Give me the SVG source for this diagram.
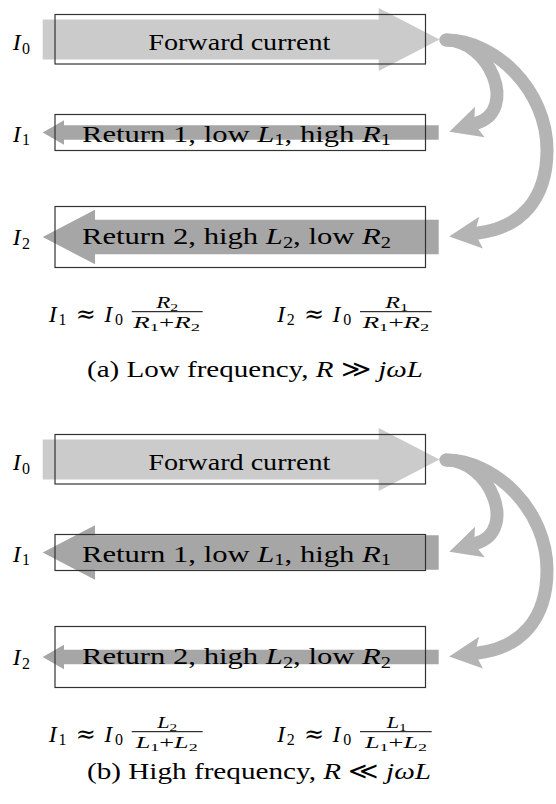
<svg xmlns="http://www.w3.org/2000/svg" width="556" height="804" viewBox="0 0 556 804">
<style>
.t{font-family:"Liberation Serif","DejaVu Serif",serif;font-size:24px;fill:#000}
.i{font-style:italic}
.s{font-size:16px}
.f{font-size:16px}
.fs{font-size:11px}
.ap{font-family:"DejaVu Serif",serif;font-size:24px}
.box{fill:none;stroke:#333;stroke-width:1.2}
.fwd{fill:#cbcbcb}
.ret{fill:#a6a6a6}
.bend{fill:none;stroke:#b4b4b4;stroke-width:13;stroke-linecap:round}
.bar{stroke:#000;stroke-width:1}
</style>
<defs>
<marker id="head" markerUnits="userSpaceOnUse" viewBox="-2 -18 36 36" markerWidth="36" markerHeight="36" refX="3" refY="0" orient="auto">
<path d="M0,-16 L32,0 L0,16 L6,0 Z" fill="#b4b4b4"/>
</marker>
</defs>
<rect width="556" height="804" fill="#fff"/>

<!-- Panel (a) -->
<g id="a-forward">
<polygon class="fwd" points="42.7,19.5 378.7,19.5 378.7,8 439.5,39.5 378.7,71 378.7,59.5 42.7,59.5"/>
<rect class="box" x="55" y="14.5" width="370.5" height="49.5"/>
<text class="t" x="148.3" y="49.5" textLength="182" lengthAdjust="spacingAndGlyphs">Forward current</text>
<text class="t" y="50"><tspan class="i" x="12.7">I</tspan><tspan class="s" x="22" dy="3.6">0</tspan></text>
</g>
<g id="a-return1">
<polygon class="ret" points="438.7,125.25 64,125.25 64,120.25 42.7,132.5 64,144.75 64,139.75 438.7,139.75"/>
<rect class="box" x="55" y="114.5" width="370.5" height="36"/>
<text class="t" x="82" y="141.7" textLength="309" lengthAdjust="spacingAndGlyphs">Return 1, low <tspan class="i">L</tspan><tspan class="s" dy="3.6">1</tspan><tspan dy="-3.6">, high </tspan><tspan class="i">R</tspan><tspan class="s" dy="3.6">1</tspan></text>
<text class="t" y="141.7"><tspan class="i" x="12.7">I</tspan><tspan class="s" x="22" dy="3.6">1</tspan></text>
</g>
<g id="a-return2">
<polygon class="ret" points="438.7,219.7 95,219.7 95,209.7 42.7,237 95,264.3 95,254.3 438.7,254.3"/>
<rect class="box" x="55" y="206.5" width="370.5" height="61"/>
<text class="t" x="82" y="244" textLength="309" lengthAdjust="spacingAndGlyphs">Return 2, high <tspan class="i">L</tspan><tspan class="s" dy="3.6">2</tspan><tspan dy="-3.6">, low </tspan><tspan class="i">R</tspan><tspan class="s" dy="3.6">2</tspan></text>
<text class="t" y="245"><tspan class="i" x="12.7">I</tspan><tspan class="s" x="22" dy="3.6">2</tspan></text>
</g>
<g id="a-connectors">
<path class="bend" d="M446,40 C490,40 518,110 477,123" marker-end="url(#head)"/>
<path class="bend" d="M446,40 C495,40 547,90 547,150 C547,200 520,228 478,233" marker-end="url(#head)"/>
</g>
<g id="a-formula1">
<text class="t" y="321.7"><tspan class="i" x="48.7">I</tspan><tspan class="s" x="58.4" dy="3.6">1</tspan></text>
<text class="ap" x="85.7" y="321.7" text-anchor="middle">≈</text>
<text class="t" y="321.7"><tspan class="i" x="104.2">I</tspan><tspan class="s" x="115" dy="3.6">0</tspan></text>
<line class="bar" x1="131.7" y1="311.7" x2="202.7" y2="311.7"/>
<text class="t f" x="167.2" y="308.3" text-anchor="middle" textLength="22" lengthAdjust="spacingAndGlyphs"><tspan class="i">R</tspan><tspan class="fs" dy="2.5">2</tspan></text>
<text class="t f" x="166.7" y="328.3" text-anchor="middle" textLength="66.7" lengthAdjust="spacingAndGlyphs"><tspan class="i">R</tspan><tspan class="fs" dy="2.5">1</tspan><tspan dy="-2.5">+</tspan><tspan class="i">R</tspan><tspan class="fs" dy="2.5">2</tspan></text>
</g>
<g id="a-formula2">
<text class="t" y="321.7"><tspan class="i" x="277">I</tspan><tspan class="s" x="286.7" dy="3.6">2</tspan></text>
<text class="ap" x="314" y="321.7" text-anchor="middle">≈</text>
<text class="t" y="321.7"><tspan class="i" x="332.5">I</tspan><tspan class="s" x="343.3" dy="3.6">0</tspan></text>
<line class="bar" x1="360" y1="311.7" x2="431.7" y2="311.7"/>
<text class="t f" x="396.7" y="308.3" text-anchor="middle" textLength="23" lengthAdjust="spacingAndGlyphs"><tspan class="i">R</tspan><tspan class="fs" dy="2.5">1</tspan></text>
<text class="t f" x="396" y="328.3" text-anchor="middle" textLength="66.7" lengthAdjust="spacingAndGlyphs"><tspan class="i">R</tspan><tspan class="fs" dy="2.5">1</tspan><tspan dy="-2.5">+</tspan><tspan class="i">R</tspan><tspan class="fs" dy="2.5">2</tspan></text>
</g>
<g id="a-caption">
<text class="t" x="87" y="377" textLength="336" lengthAdjust="spacingAndGlyphs">(a) Low frequency, <tspan class="i">R</tspan> ≫ <tspan class="i">jωL</tspan></text>
</g>

<!-- Panel (b) -->
<g id="b-forward">
<polygon class="fwd" points="42.7,439.5 378.7,439.5 378.7,428 439.5,459.5 378.7,491 378.7,479.5 42.7,479.5"/>
<rect class="box" x="55" y="434.5" width="370.5" height="49.5"/>
<text class="t" x="148.3" y="469.5" textLength="182" lengthAdjust="spacingAndGlyphs">Forward current</text>
<text class="t" y="470"><tspan class="i" x="12.7">I</tspan><tspan class="s" x="22" dy="3.6">0</tspan></text>
</g>
<g id="b-return1">
<polygon class="ret" points="438.7,535.2 95,535.2 95,525.2 42.7,552.5 95,579.8 95,569.8 438.7,569.8"/>
<rect class="box" x="55" y="534.5" width="370.5" height="36"/>
<text class="t" x="82" y="561.7" textLength="309" lengthAdjust="spacingAndGlyphs">Return 1, low <tspan class="i">L</tspan><tspan class="s" dy="3.6">1</tspan><tspan dy="-3.6">, high </tspan><tspan class="i">R</tspan><tspan class="s" dy="3.6">1</tspan></text>
<text class="t" y="561.7"><tspan class="i" x="12.7">I</tspan><tspan class="s" x="22" dy="3.6">1</tspan></text>
</g>
<g id="b-return2">
<polygon class="ret" points="438.7,649.75 64,649.75 64,644.75 42.7,657 64,669.25 64,664.25 438.7,664.25"/>
<rect class="box" x="55" y="626.5" width="370.5" height="61"/>
<text class="t" x="82" y="664" textLength="309" lengthAdjust="spacingAndGlyphs">Return 2, high <tspan class="i">L</tspan><tspan class="s" dy="3.6">2</tspan><tspan dy="-3.6">, low </tspan><tspan class="i">R</tspan><tspan class="s" dy="3.6">2</tspan></text>
<text class="t" y="665"><tspan class="i" x="12.7">I</tspan><tspan class="s" x="22" dy="3.6">2</tspan></text>
</g>
<g id="b-connectors">
<path class="bend" d="M446,460 C490,460 518,530 477,543" marker-end="url(#head)"/>
<path class="bend" d="M446,460 C495,460 547,510 547,570 C547,620 520,648 478,653" marker-end="url(#head)"/>
</g>
<g id="b-formula1">
<text class="t" y="741.7"><tspan class="i" x="48.7">I</tspan><tspan class="s" x="58.4" dy="3.6">1</tspan></text>
<text class="ap" x="85.7" y="741.7" text-anchor="middle">≈</text>
<text class="t" y="741.7"><tspan class="i" x="104.2">I</tspan><tspan class="s" x="115" dy="3.6">0</tspan></text>
<line class="bar" x1="131.7" y1="731.7" x2="202.7" y2="731.7"/>
<text class="t f" x="167.2" y="728.3" text-anchor="middle" textLength="20" lengthAdjust="spacingAndGlyphs"><tspan class="i">L</tspan><tspan class="fs" dy="2.5">2</tspan></text>
<text class="t f" x="166.7" y="748.3" text-anchor="middle" textLength="62" lengthAdjust="spacingAndGlyphs"><tspan class="i">L</tspan><tspan class="fs" dy="2.5">1</tspan><tspan dy="-2.5">+</tspan><tspan class="i">L</tspan><tspan class="fs" dy="2.5">2</tspan></text>
</g>
<g id="b-formula2">
<text class="t" y="741.7"><tspan class="i" x="277">I</tspan><tspan class="s" x="286.7" dy="3.6">2</tspan></text>
<text class="ap" x="314" y="741.7" text-anchor="middle">≈</text>
<text class="t" y="741.7"><tspan class="i" x="332.5">I</tspan><tspan class="s" x="343.3" dy="3.6">0</tspan></text>
<line class="bar" x1="360" y1="731.7" x2="431.7" y2="731.7"/>
<text class="t f" x="396.7" y="728.3" text-anchor="middle" textLength="20" lengthAdjust="spacingAndGlyphs"><tspan class="i">L</tspan><tspan class="fs" dy="2.5">1</tspan></text>
<text class="t f" x="396" y="748.3" text-anchor="middle" textLength="62" lengthAdjust="spacingAndGlyphs"><tspan class="i">L</tspan><tspan class="fs" dy="2.5">1</tspan><tspan dy="-2.5">+</tspan><tspan class="i">L</tspan><tspan class="fs" dy="2.5">2</tspan></text>
</g>
<g id="b-caption">
<text class="t" x="87" y="779" textLength="344" lengthAdjust="spacingAndGlyphs">(b) High frequency, <tspan class="i">R</tspan> ≪ <tspan class="i">jωL</tspan></text>
</g>
</svg>
